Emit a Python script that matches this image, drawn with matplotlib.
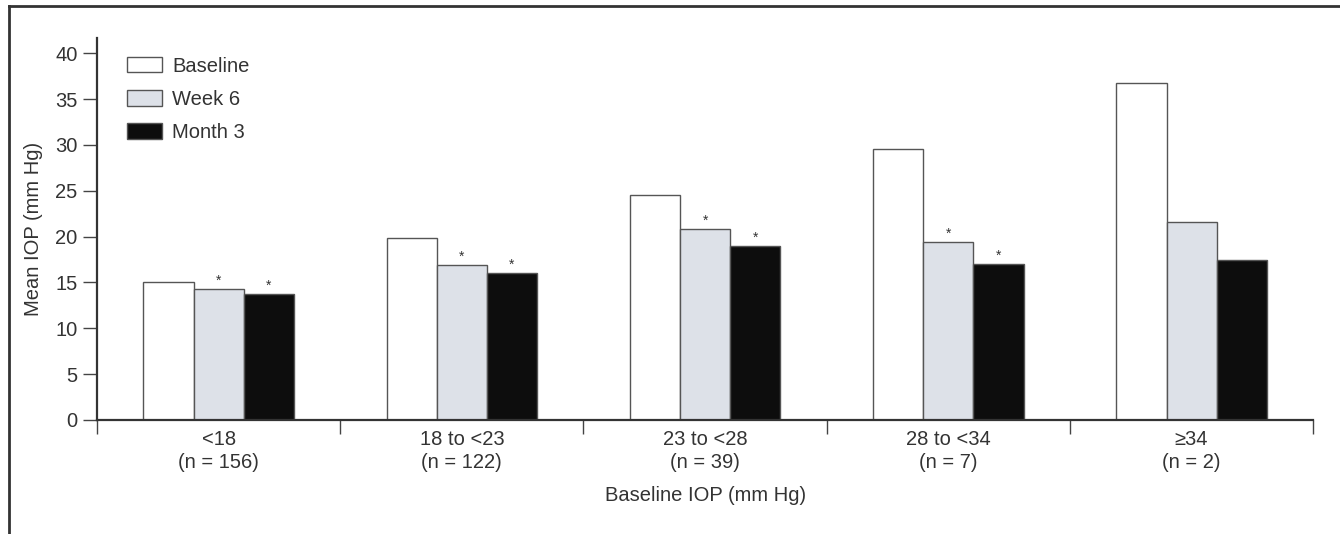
import matplotlib
matplotlib.use('Agg')
import matplotlib.pyplot as plt
import numpy as np

plt.rcParams['font.family'] = ['Liberation Sans', 'DejaVu Sans']

# Data
groups = ['<18\n(n = 156)', '18 to <23\n(n = 122)', '23 to <28\n(n = 39)',
          '28 to <34\n(n = 7)', '≥34\n(n = 2)']
baseline = [15.1, 19.9, 24.5, 29.6, 36.8]
week6 = [14.3, 16.9, 20.8, 19.4, 21.6]
month3 = [13.7, 16.0, 19.0, 17.0, 17.4]
week6_sig = [True, True, True, True, False]
month3_sig = [True, True, True, True, False]

series = [('Baseline', baseline, 'white'),
          ('Week 6', week6, '#dde1e8'),
          ('Month 3', month3, '#0d0d0d')]

fs = 14.5
txt = '#333333'

fig = plt.figure(figsize=(13.4, 5.34), dpi=100)
ax = fig.add_axes([0.0724, 0.2135, 0.9076, 0.716])

width = 0.206
centers = np.arange(len(groups)) + 0.5
for i, (name, vals, col) in enumerate(series):
    ax.bar(centers + (i - 1) * width, vals, width, color=col,
           edgecolor='#555555', linewidth=1.0, label=name, zorder=2)

# significance markers
for i, (vals, sig) in enumerate([(week6, week6_sig), (month3, month3_sig)]):
    for c, v, s in zip(centers, vals, sig):
        if s:
            ax.text(c + i * width, v + 0.9, '*', ha='center', va='center',
                    fontsize=10, color=txt)

ax.set_xlim(0, 5)
ax.set_ylim(0, 41.7)
ax.set_yticks(range(0, 41, 5))
ax.set_xticks(range(0, 6))
ax.set_xticklabels([])
ax.set_xticks(centers, minor=True)
ax.set_xticklabels(groups, minor=True, fontsize=fs, color=txt, linespacing=1.3)
ax.tick_params(axis='x', which='minor', length=0, pad=7)
ax.tick_params(axis='x', which='major', direction='out', length=10,
               width=1, color='#444444')
ax.tick_params(axis='y', direction='out', length=10, width=1,
               color='#444444', labelsize=fs, labelcolor=txt, pad=4)

for side in ['top', 'right']:
    ax.spines[side].set_visible(False)
for side in ['left', 'bottom']:
    ax.spines[side].set_color('#333333')
    ax.spines[side].set_linewidth(1.6)

ax.set_ylabel('Mean IOP (mm Hg)', fontsize=fs, color=txt, labelpad=9)
ax.set_xlabel('Baseline IOP (mm Hg)', fontsize=fs, color=txt, labelpad=10)

ax.legend(loc='upper left', bbox_to_anchor=(0.0247, 0.95), frameon=False,
          fontsize=fs, handlelength=1.74, handleheight=0.8,
          labelspacing=0.7, handletextpad=0.5, borderpad=0,
          borderaxespad=0, labelcolor=txt)

# outer frame lines (top and left)
fig.add_artist(plt.Line2D([0.0067, 1.0], [0.989, 0.989], color='#333333',
                          linewidth=2.0, transform=fig.transFigure))
fig.add_artist(plt.Line2D([0.0067, 0.0067], [0.0, 0.989], color='#333333',
                          linewidth=2.0, transform=fig.transFigure))

fig.savefig('out.png', dpi=100)
